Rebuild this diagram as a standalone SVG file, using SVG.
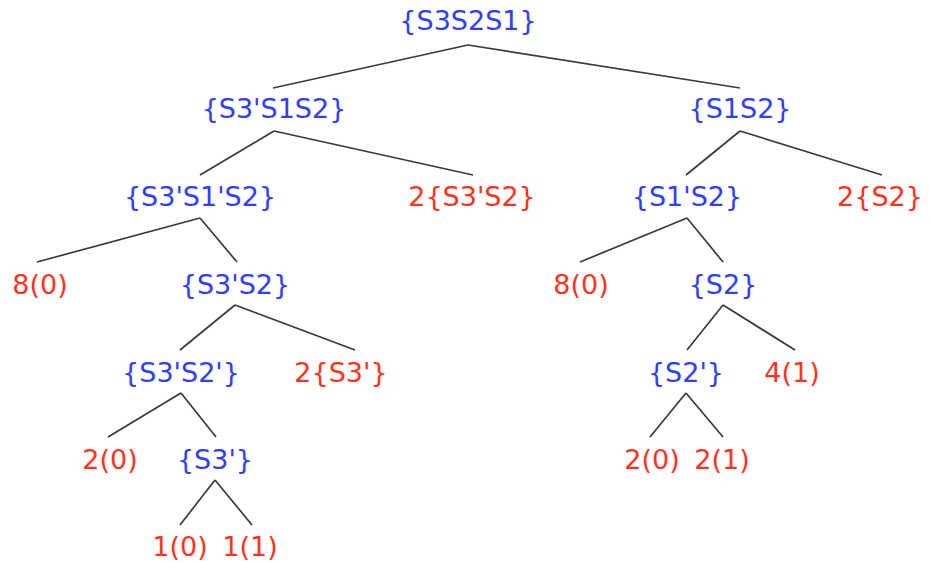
<svg xmlns="http://www.w3.org/2000/svg" width="930" height="563" viewBox="0 0 930 563">
<style>
text{font-family:"DejaVu Sans",sans-serif;font-size:27px;text-anchor:middle}
.b{fill:#3040f8}
.r{fill:#ff3322}
#edges line{stroke:#3a3a3a;stroke-width:1.7}
</style>
<rect width="930" height="563" fill="#fff"/>
<g id="edges">
<line x1="468" y1="45" x2="273" y2="88"/>
<line x1="468" y1="45" x2="740" y2="88"/>
<line x1="274" y1="131" x2="200" y2="175"/>
<line x1="274" y1="131" x2="473" y2="175"/>
<line x1="740" y1="131" x2="686" y2="175"/>
<line x1="740" y1="131" x2="882" y2="175"/>
<line x1="200" y1="218" x2="37" y2="262"/>
<line x1="200" y1="218" x2="237" y2="262"/>
<line x1="687" y1="218" x2="580" y2="262"/>
<line x1="687" y1="218" x2="723" y2="262"/>
<line x1="235" y1="305" x2="180" y2="350"/>
<line x1="235" y1="305" x2="355" y2="350"/>
<line x1="723" y1="305" x2="687" y2="350"/>
<line x1="723" y1="305" x2="795" y2="350"/>
<line x1="181" y1="393" x2="108" y2="437"/>
<line x1="181" y1="393" x2="216" y2="437"/>
<line x1="686" y1="393" x2="650" y2="437"/>
<line x1="686" y1="393" x2="723" y2="437"/>
<line x1="215" y1="480" x2="180" y2="525"/>
<line x1="215" y1="480" x2="252" y2="525"/>
</g>
<g id="n_root"><text class="b" x="468" y="30">{S3S2S1}</text></g>
<g id="n_s3ps1s2"><text class="b" x="274" y="118">{S3'S1S2}</text></g>
<g id="n_s1s2"><text class="b" x="740" y="118">{S1S2}</text></g>
<g id="n_s3ps1ps2"><text class="b" x="200" y="206">{S3'S1'S2}</text></g>
<g id="n_2s3ps2"><text class="r" x="472" y="206">2{S3'S2}</text></g>
<g id="n_s1ps2"><text class="b" x="687" y="206">{S1'S2}</text></g>
<g id="n_2s2"><text class="r" x="880" y="206">2{S2}</text></g>
<g id="n_8_0a"><text class="r" x="40" y="294">8(0)</text></g>
<g id="n_s3ps2"><text class="b" x="235" y="294">{S3'S2}</text></g>
<g id="n_8_0b"><text class="r" x="581" y="294">8(0)</text></g>
<g id="n_s2"><text class="b" x="723" y="294">{S2}</text></g>
<g id="n_s3ps2p"><text class="b" x="181" y="382">{S3'S2'}</text></g>
<g id="n_2s3p"><text class="r" x="341" y="382">2{S3'}</text></g>
<g id="n_s2p"><text class="b" x="686" y="382">{S2'}</text></g>
<g id="n_4_1"><text class="r" x="792" y="382">4(1)</text></g>
<g id="n_2_0a"><text class="r" x="110" y="469">2(0)</text></g>
<g id="n_s3p"><text class="b" x="215" y="469">{S3'}</text></g>
<g id="n_2_0b"><text class="r" x="652" y="469">2(0)</text></g>
<g id="n_2_1"><text class="r" x="722" y="469">2(1)</text></g>
<g id="n_1_0"><text class="r" x="180" y="556">1(0)</text></g>
<g id="n_1_1"><text class="r" x="250" y="556">1(1)</text></g>
</svg>
